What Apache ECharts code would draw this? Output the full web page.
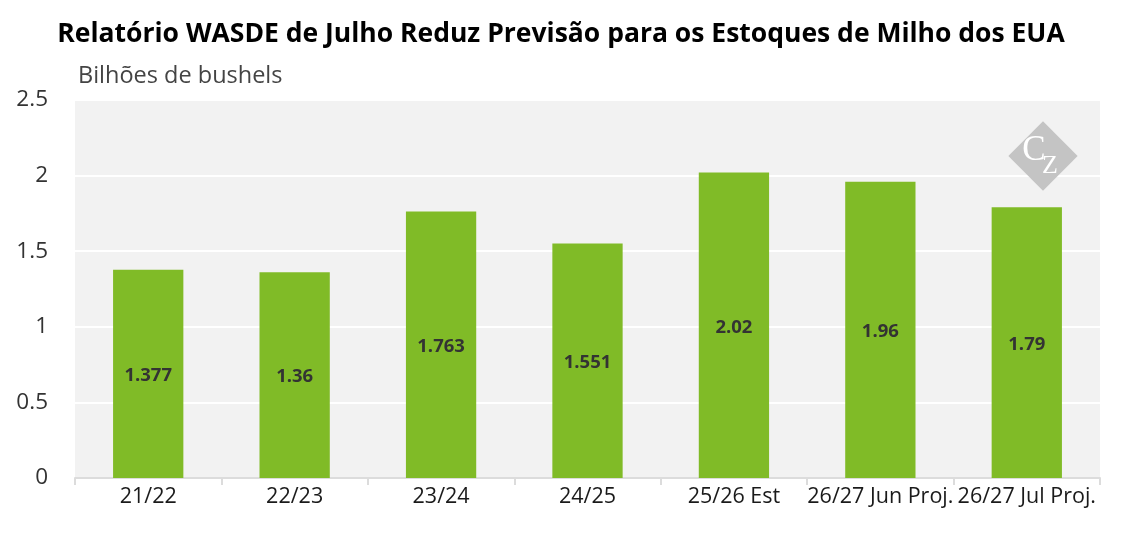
<!DOCTYPE html>
<html><head><meta charset="utf-8">
<script src="https://cdn.jsdelivr.net/npm/echarts@6/dist/echarts.min.js"></script>
<style>html,body{margin:0;padding:0;background:#fff}#c{width:1122px;height:534px}</style>
</head><body><div id="c"></div>
<script>
const categories = ['21/22','22/23','23/24','24/25','25/26 Est','26/27 Jun Proj.','26/27 Jul Proj.'];
const values = [1.377, 1.36, 1.763, 1.551, 2.02, 1.96, 1.79];
const yTicks = {min: 0, max: 2.5, interval: 0.5};
const chart = echarts.init(document.getElementById('c'));
chart.setOption({
  animation: false,
  backgroundColor: '#fff',
  textStyle: {fontFamily: 'Open Sans'},
  title: {
    text: 'Relatório WASDE de Julho Reduz Previsão para os Estoques de Milho dos EUA',
    left: 'center', top: 16,
    textStyle: {fontFamily: 'Open Sans', fontWeight: 'bold', fontSize: 26.5, color: '#000'}
  },
  grid: {left: 75, right: 22, top: 100, bottom: 56, show: true, backgroundColor: '#f2f2f2', borderWidth: 0},
  xAxis: {
    type: 'category', data: categories,
    axisLine: {lineStyle: {color: '#dcdcdc', width: 2}},
    axisTick: {show: true, length: 7, lineStyle: {color: '#dcdcdc', width: 2}},
    axisLabel: {fontSize: 21.5, color: '#1a1a1a', margin: 8, interval: 0}
  },
  yAxis: {
    type: 'value', min: yTicks.min, max: yTicks.max, interval: yTicks.interval,
    name: 'Bilhões de bushels', nameLocation: 'end', nameGap: 12,
    nameTextStyle: {fontSize: 23.5, color: '#444', align: 'left', padding: [0,0,0,3]},
    axisLine: {show: false}, axisTick: {show: false},
    axisLabel: {fontSize: 22.5, color: '#333', margin: 27},
    splitLine: {lineStyle: {color: '#fff', width: 2}}
  },
  series: [{
    type: 'bar', data: values, barWidth: '48%',
    itemStyle: {color: '#80bb27'},
    label: {show: true, position: 'inside', fontSize: 18.5, fontWeight: 'bold', color: '#333', offset: [0, 2],
      formatter: p => String(p.value)}
  }],
  graphic: [
    {type: 'rect', x: 1043, y: 156, rotation: Math.PI/4, shape: {x: -24.5, y: -24.5, width: 49, height: 49},
     style: {fill: '#c4c4c4'}, z: 5},
    {type: 'text', x: 1034, y: 151, style: {text: 'C', fill: '#fff', font: '35px "Liberation Serif", serif', align: 'center', verticalAlign: 'middle'}, z: 6},
    {type: 'text', x: 1050, y: 166, style: {text: 'Z', fill: '#fff', font: '26px "Liberation Serif", serif', align: 'center', verticalAlign: 'middle'}, z: 6}
  ]
});
</script></body></html>
